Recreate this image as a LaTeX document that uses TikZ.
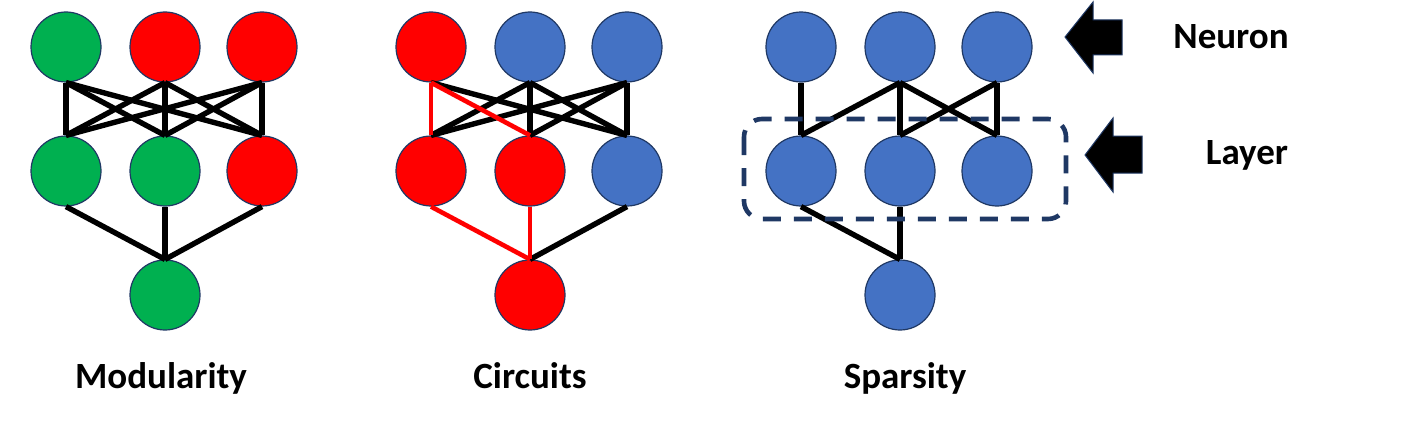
\documentclass[tikz,border=0pt]{standalone}
\usepackage{fontspec}
\setmainfont{Carlito}
\definecolor{ngreen}{HTML}{00B050}
\definecolor{nred}{HTML}{FF0000}
\definecolor{nblue}{HTML}{4472C4}
\definecolor{outl}{HTML}{1F3864}
\definecolor{boxc}{HTML}{1F3864}
\tikzset{
  neuron/.style={circle, draw=outl, line width=1.2pt, minimum size=70pt, inner sep=0pt},
  gn/.style={neuron, fill=ngreen},
  rn/.style={neuron, fill=nred},
  bn/.style={neuron, fill=nblue},
  edge/.style={line width=5.4pt, black},
  redge/.style={line width=4.6pt, nred},
  lbl/.style={font=\bfseries\fontsize{37}{40}\selectfont, inner sep=0pt},
  bigarrow/.style={fill=black, draw=outl, line width=1pt},
  layerbox/.style={draw=boxc, line width=4.6pt, dash pattern=on 18pt off 13pt, rounded corners=18pt}
}
\begin{document}
\begin{tikzpicture}[x=1pt,y=-1pt]
\useasboundingbox (0,0) rectangle (1407,420);
\fill[white] (0,0) rectangle (1407,420);
% ---- Modularity
\node[gn] (a1) at (66,47) {};
\node[rn] (a2) at (165,47) {};
\node[rn] (a3) at (262,47) {};
\node[gn] (a4) at (66,171) {};
\node[gn] (a5) at (165,171) {};
\node[rn] (a6) at (262,171) {};
\node[gn] (a7) at (165,295) {};
\foreach \t in {a1,a2,a3}{\foreach \m in {a4,a5,a6}{\draw[edge] (\t.south) -- (\m.north);}}
\foreach \m in {a4,a5,a6}{\draw[edge] (\m.south) -- (a7.north);}
% ---- Circuits
\node[rn] (b1) at (431,47) {};
\node[bn] (b2) at (530,47) {};
\node[bn] (b3) at (627,47) {};
\node[rn] (b4) at (431,171) {};
\node[rn] (b5) at (530,171) {};
\node[bn] (b6) at (627,171) {};
\node[rn] (b7) at (530,295) {};
\draw[edge] (b1.south) -- (b6.north);
\foreach \t in {b2,b3}{\foreach \m in {b4,b5,b6}{\draw[edge] (\t.south) -- (\m.north);}}
\draw[edge] (b6.south) -- (b7.north);
\draw[redge] (b1.south) -- (b4.north);
\draw[redge] (b1.south) -- (b5.north);
\draw[redge] (b4.south) -- (b7.north);
\draw[redge] (b5.south) -- (b7.north);
% ---- Sparsity
\node[bn] (c1) at (801,47) {};
\node[bn] (c2) at (900,47) {};
\node[bn] (c3) at (997,47) {};
\node[bn] (c4) at (801,171) {};
\node[bn] (c5) at (900,171) {};
\node[bn] (c6) at (997,171) {};
\node[bn] (c7) at (900,295) {};
\draw[edge] (c1.south) -- (c4.north);
\draw[edge] (c2.south) -- (c4.north);
\draw[edge] (c2.south) -- (c5.north);
\draw[edge] (c2.south) -- (c6.north);
\draw[edge] (c3.south) -- (c5.north);
\draw[edge] (c3.south) -- (c6.north);
\draw[edge] (c4.south) -- (c7.north);
\draw[edge] (c5.south) -- (c7.north);
\draw[layerbox] (744,119) rectangle (1066,219);
% ---- Arrows
\draw[bigarrow] (1065,37) -- (1093,2) -- (1093,20) -- (1122,20) -- (1122,55) -- (1093,55) -- (1093,73) -- cycle;
\draw[bigarrow] (1085,155) -- (1113,118) -- (1113,136) -- (1142,136) -- (1142,173) -- (1113,173) -- (1113,192) -- cycle;
\node[lbl] (neuron) at (1231,37) {Neuron};
\node[lbl] (layer) at (1247,155) {Layer};
% ---- Titles
\node[lbl, anchor=base] (t1) at (161,388) {Modularity};
\node[lbl, anchor=base] (t2) at (530,388) {Circuits};
\node[lbl, anchor=base] (t3) at (905,388) {Sparsity};
\end{tikzpicture}
\end{document}
